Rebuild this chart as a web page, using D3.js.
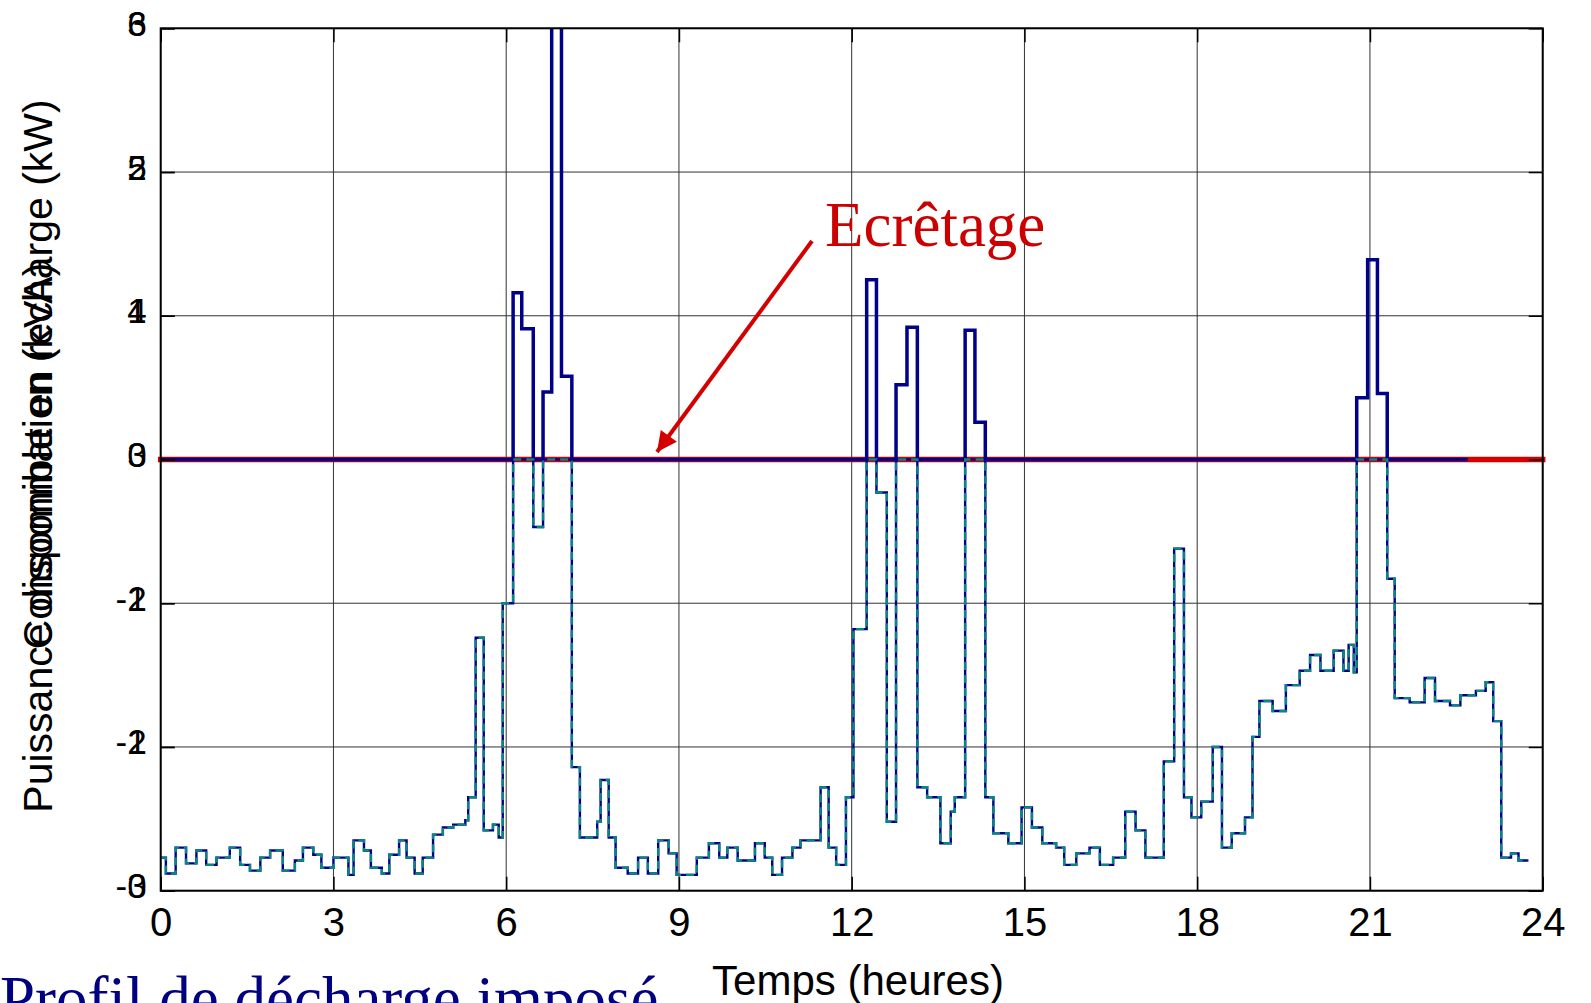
<!DOCTYPE html>
<html>
<head>
<meta charset="utf-8">
<script src="https://cdn.jsdelivr.net/npm/d3@7"></script>
<style>
  body { margin: 0; background: #fff; overflow: hidden; }
  svg { display: block; }
</style>
</head>
<body>
<div id="chart"></div>
<script>
// load profile (hours, power in kW, step after)
var hours = [0, 0.09, 0.26, 0.44, 0.62, 0.79, 0.97, 1.2, 1.38, 1.55, 1.73, 1.9, 2.12, 2.33, 2.47, 2.65, 2.79,
  3.0, 3.26, 3.35, 3.53, 3.65, 3.84, 3.97, 4.14, 4.27, 4.41, 4.55, 4.73, 4.9, 5.08, 5.29, 5.34, 5.47, 5.61,
  5.77, 5.87, 5.94, 6.12, 6.27, 6.47, 6.64, 6.79, 6.96, 7.14, 7.28, 7.58, 7.64, 7.78, 7.9, 8.11, 8.29, 8.46,
  8.64, 8.82, 8.96, 9.31, 9.52, 9.7, 9.84, 10.02, 10.32, 10.49, 10.62, 10.79, 10.97, 11.11, 11.46, 11.6,
  11.73, 11.9, 12.03, 12.26, 12.43, 12.61, 12.77, 12.96, 13.14, 13.31, 13.54, 13.72, 13.79, 13.97, 14.14,
  14.32, 14.46, 14.72, 14.95, 15.13, 15.31, 15.55, 15.69, 15.9, 16.13, 16.31, 16.54, 16.75, 16.93, 17.1,
  17.42, 17.6, 17.77, 17.9, 18.07, 18.27, 18.43, 18.6, 18.83, 18.96, 19.08, 19.31, 19.54, 19.78, 19.96,
  20.14, 20.37, 20.54, 20.63, 20.72, 20.77, 20.96, 21.13, 21.3, 21.43, 21.69, 21.95, 22.13, 22.39, 22.57,
  22.84, 23.01, 23.14, 23.28, 23.45, 23.58, 23.75]
var power = [-2.77, -2.88, -2.70, -2.81, -2.72, -2.82, -2.77, -2.70, -2.82, -2.86, -2.77, -2.72, -2.86, -2.79,
  -2.70, -2.75, -2.84, -2.77, -2.89, -2.65, -2.72, -2.84, -2.88, -2.75, -2.65, -2.77, -2.88, -2.77, -2.61,
  -2.56, -2.54, -2.51, -2.35, -1.24, -2.58, -2.54, -2.63, -1.0, 1.16, 0.91, -0.47, 0.47, 3.3, 0.58, -2.14,
  -2.63, -2.52, -2.23, -2.63, -2.84, -2.88, -2.77, -2.88, -2.65, -2.74, -2.89, -2.77, -2.67, -2.77, -2.70,
  -2.79, -2.67, -2.77, -2.89, -2.77, -2.70, -2.65, -2.28, -2.70, -2.82, -2.35, -1.18, 1.25, -0.23, -2.52,
  0.52, 0.92, -2.28, -2.35, -2.67, -2.45, -2.35, 0.9, 0.26, -2.35, -2.6, -2.67, -2.42, -2.56, -2.67, -2.70,
  -2.82, -2.74, -2.70, -2.82, -2.77, -2.45, -2.58, -2.77, -2.10, -0.62, -2.35, -2.49, -2.38, -2.0, -2.70,
  -2.6, -2.49, -1.93, -1.68, -1.75, -1.57, -1.47, -1.36, -1.47, -1.33, -1.47, -1.29, -1.48, 0.43, 1.39,
  0.46, -0.83, -1.66, -1.69, -1.52, -1.68, -1.71, -1.64, -1.61, -1.55, -1.82, -2.77, -2.74, -2.79, -2.79]

var threshold = 0        // écrêtage level
var clipEnd = 22.7       // end of the clipped-consumption trace
var xTicks = [0, 3, 6, 9, 12, 15, 18, 21, 24]
var consoTicks = [0, 1, 2, 3, 4, 5, 6]
var powerTicks = [-3, -2, -1, 0, 1, 2, 3]

var W = 1591, H = 1003
var L = 160.7, R = 1542.7, T = 28.3, B = 890.7
var navy = "#000088", teal = "#0a8585", red = "#d40000"
var sans = "'Liberation Sans', Arial, sans-serif"
var serif = "'Liberation Serif', 'Times New Roman', serif"

var svg = d3.select("#chart").append("svg").attr("width", W).attr("height", H)

var x = d3.scaleLinear().domain([0, 24]).range([L, R])
var yConso = d3.scaleLinear().domain([0, 6]).range([B, T])
var yPower = d3.scaleLinear().domain([-3, 3]).range([B, T])

svg.append("defs").append("clipPath").attr("id", "plotclip")
  .append("rect").attr("x", L).attr("y", T).attr("width", R - L).attr("height", B - T)

// grid
var grid = svg.append("g").attr("stroke", "#333").attr("stroke-width", 1)
grid.selectAll(".gx").data(xTicks).enter().append("line")
  .attr("x1", d => x(d)).attr("x2", d => x(d)).attr("y1", T).attr("y2", B)
grid.selectAll(".gy").data(powerTicks).enter().append("line")
  .attr("x1", L).attr("x2", R).attr("y1", d => yPower(d)).attr("y2", d => yPower(d))

// data
var pts = hours.map((h, i) => ({ h: h, v: power[i] }))
var low = pts.map(d => ({ h: d.h, v: Math.min(d.v, threshold) }))
var high = pts.filter(d => d.h < clipEnd).map(d => ({ h: d.h, v: Math.max(d.v, threshold) }))
high.push({ h: clipEnd, v: threshold })

var line = d3.line().x(d => x(d.h)).y(d => yPower(d.v)).curve(d3.curveStepAfter)

svg.append("path")
  .datum([{ h: 0, v: threshold }, { h: 24, v: threshold }])
  .attr("d", d3.line().x(d => x(d.h)).y(d => yPower(d.v)))
  .attr("fill", "none").attr("stroke", red).attr("stroke-width", 5.5).attr("stroke-linecap", "square")

var plot = svg.append("g").attr("clip-path", "url(#plotclip)")
plot.append("path").datum(high).attr("d", line)
  .attr("fill", "none").attr("stroke", navy).attr("stroke-width", 3.5)
plot.append("path").datum(low).attr("d", line)
  .attr("fill", "none").attr("stroke", navy).attr("stroke-width", 2.4)
plot.append("path").datum(low).attr("d", line)
  .attr("fill", "none").attr("stroke", teal).attr("stroke-width", 2.4).attr("stroke-dasharray", "8,5")

// axes
function styleAxis(g, size) {
  g.select(".domain").remove()
  g.selectAll(".tick line").attr("stroke", "#000").attr("stroke-width", 1.5)
  g.selectAll("text").attr("fill", "#000").style("font-family", sans).style("font-size", size + "px")
}

svg.append("g").attr("transform", "translate(0," + B + ")")
  .call(d3.axisBottom(x).tickValues(xTicks).tickSize(-14).tickPadding(17).tickFormat(d => String(d)))
  .call(g => styleAxis(g, 40))

svg.append("g").attr("transform", "translate(0," + T + ")")
  .call(d3.axisTop(x).tickValues(xTicks).tickSize(-14).tickFormat(""))
  .call(g => styleAxis(g, 40))

svg.append("g").attr("transform", "translate(" + L + ",0)")
  .call(d3.axisLeft(yConso).tickValues(consoTicks).tickSize(-14).tickPadding(14).tickFormat(d => String(d)))
  .call(g => styleAxis(g, 35))
  .selectAll("text").attr("dy", "0.2em")

svg.append("g").attr("transform", "translate(" + L + ",0)")
  .call(d3.axisLeft(yPower).tickValues(powerTicks).tickSize(-14).tickPadding(14).tickFormat(d => String(d)))
  .call(g => styleAxis(g, 35))
  .selectAll("text").attr("dy", "0.2em")

svg.append("g").attr("transform", "translate(" + R + ",0)")
  .call(d3.axisRight(yPower).tickValues(powerTicks).tickSize(-14).tickFormat(""))
  .call(g => styleAxis(g, 35))

svg.append("rect").attr("x", L).attr("y", T).attr("width", R - L).attr("height", B - T)
  .attr("fill", "none").attr("stroke", "#000").attr("stroke-width", 2)

// axis titles
svg.append("text").attr("x", 858).attr("y", 995).attr("text-anchor", "middle")
  .style("font-family", sans).style("font-size", "42px").text("Temps (heures)")

svg.append("text").attr("transform", "translate(52,456) rotate(-90)").attr("text-anchor", "middle")
  .style("font-family", sans).style("font-size", "41px").text("Puissance disponible en recharge (kW)")
svg.append("text").attr("transform", "translate(52,456) rotate(-90)").attr("text-anchor", "middle")
  .style("font-family", sans).style("font-size", "41px").text("Consommation (kVA)")

// annotation
svg.append("defs").append("marker").attr("id", "arrowhead")
  .attr("viewBox", "0 0 10 10").attr("refX", 10).attr("refY", 5)
  .attr("markerWidth", 6).attr("markerHeight", 5).attr("markerUnits", "strokeWidth")
  .attr("orient", "auto")
  .append("path").attr("d", "M0,0 L10,5 L0,10 z").attr("fill", red)

svg.append("line").attr("x1", 812).attr("y1", 241).attr("x2", 657).attr("y2", 452)
  .attr("stroke", red).attr("stroke-width", 4).attr("marker-end", "url(#arrowhead)")

svg.append("text").attr("x", 825).attr("y", 246)
  .style("font-family", serif).style("font-size", "63px")
  .attr("fill", "#cc0000").text("Ecrêtage")

svg.append("text").attr("x", 0).attr("y", 1020)
  .style("font-family", serif).style("font-size", "63px")
  .attr("fill", "#000080").text("Profil de décharge imposé")
</script>
</body>
</html>
